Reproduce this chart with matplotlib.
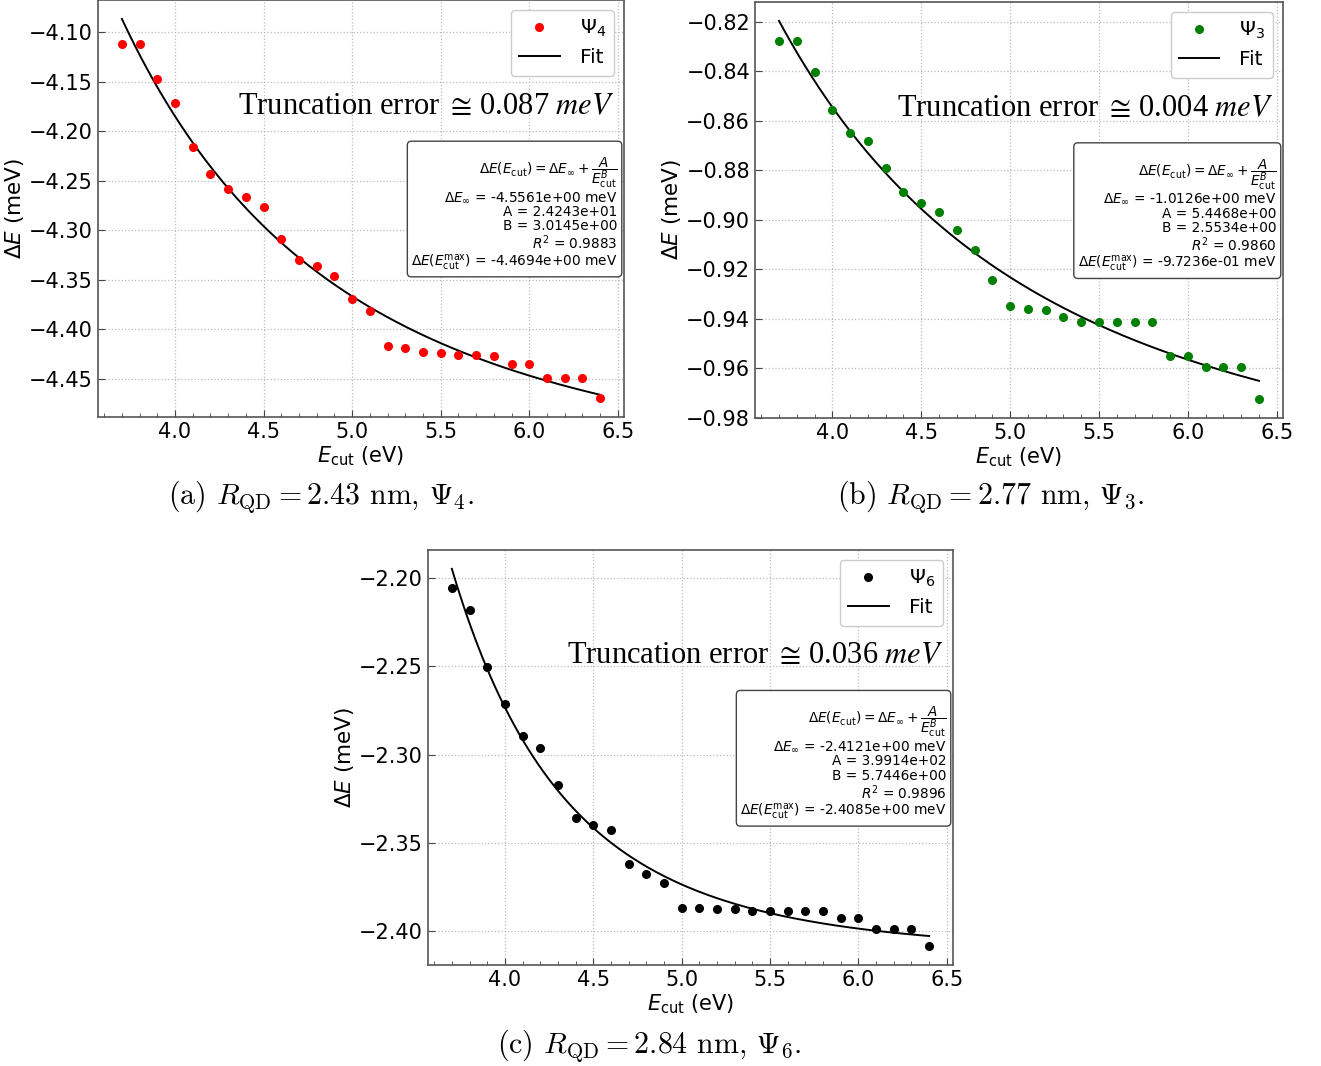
import numpy as np
import matplotlib
matplotlib.use("Agg")
import matplotlib.pyplot as plt

# ---------------- data ----------------
ecut = [3.7, 3.8, 3.9, 4.0, 4.1, 4.2, 4.3, 4.4, 4.5, 4.6, 4.7, 4.8, 4.9, 5.0,
        5.1, 5.2, 5.3, 5.4, 5.5, 5.6, 5.7, 5.8, 5.9, 6.0, 6.1, 6.2, 6.3, 6.4]

dE_a = [-4.1114, -4.1114, -4.1467, -4.1710, -4.2160, -4.2426, -4.2578, -4.2665,
        -4.2766, -4.3084, -4.3295, -4.3365, -4.3466, -4.3692, -4.3816, -4.4166,
        -4.4193, -4.4233, -4.4240, -4.4263, -4.4263, -4.4267, -4.4351, -4.4351,
        -4.4487, -4.4490, -4.4490, -4.4694]

dE_b = [-0.8279, -0.8279, -0.8404, -0.8558, -0.8648, -0.8680, -0.8790, -0.8889,
        -0.8933, -0.8968, -0.9043, -0.9123, -0.9242, -0.9347, -0.9362, -0.9366,
        -0.9394, -0.9411, -0.9411, -0.9414, -0.9414, -0.9414, -0.9551, -0.9551,
        -0.9596, -0.9595, -0.9595, -0.97236]

dE_c = [-2.2059, -2.2179, -2.2506, -2.2711, -2.2897, -2.2964, -2.3171, -2.3357,
        -2.3399, -2.3428, -2.3618, -2.3679, -2.3726, -2.3869, -2.3870, -2.3874,
        -2.3876, -2.3886, -2.3884, -2.3886, -2.3886, -2.3886, -2.3926, -2.3926,
        -2.3990, -2.3990, -2.3990, -2.4085]

# fit parameters as printed in each panel: (dE_inf, A, B, R2, dE(Emax))
fit_a = (-4.5561, 24.243, 3.0145, 0.9883, -4.4694)
fit_b = (-1.0126, 5.4468, 2.5534, 0.9860, -0.97236)
fit_c = (-2.4121, 399.14, 5.7446, 0.9896, -2.4085)

state_labels = [r"$\Psi_4$", r"$\Psi_3$", r"$\Psi_6$"]
trunc_errors = ["0.087", "0.004", "0.036"]
point_colors = ["#ff0000", "#008000", "#000000"]
captions = [r"(a) $R_{\mathrm{QD}} = 2.43$ nm, $\Psi_4$.",
            r"(b) $R_{\mathrm{QD}} = 2.77$ nm, $\Psi_3$.",
            r"(c) $R_{\mathrm{QD}} = 2.84$ nm, $\Psi_6$."]
ylims = [None, (-0.9800, -0.8121), None]
box_texts = [
    "\n".join([
        r"$\Delta E(E_{\rm cut}) = \Delta E_{\infty} + \dfrac{A}{E_{\rm cut}^{B}}$",
        r"$\Delta E_{\infty}$ = -4.5561e+00 meV",
        "A = 2.4243e+01",
        "B = 3.0145e+00",
        r"$R^2$ = 0.9883",
        r"$\Delta E(E_{\rm cut}^{\rm max})$ = -4.4694e+00 meV"]),
    "\n".join([
        r"$\Delta E(E_{\rm cut}) = \Delta E_{\infty} + \dfrac{A}{E_{\rm cut}^{B}}$",
        r"$\Delta E_{\infty}$ = -1.0126e+00 meV",
        "A = 5.4468e+00",
        "B = 2.5534e+00",
        r"$R^2$ = 0.9860",
        r"$\Delta E(E_{\rm cut}^{\rm max})$ = -9.7236e-01 meV"]),
    "\n".join([
        r"$\Delta E(E_{\rm cut}) = \Delta E_{\infty} + \dfrac{A}{E_{\rm cut}^{B}}$",
        r"$\Delta E_{\infty}$ = -2.4121e+00 meV",
        "A = 3.9914e+02",
        "B = 5.7446e+00",
        r"$R^2$ = 0.9896",
        r"$\Delta E(E_{\rm cut}^{\rm max})$ = -2.4085e+00 meV"]),
]

# ---------------- figure ----------------
W, H = 1321, 1066
fig = plt.figure(figsize=(W / 100, H / 100), dpi=100)
plt.rcParams['font.family'] = ['DejaVu Sans']
plt.rcParams['mathtext.fontset'] = 'dejavusans'
plt.rcParams['axes.formatter.use_mathtext'] = False


def rect(l, r, t, b):
    return [l / W, 1 - b / H, (r - l) / W, (b - t) / H]


axes_rects = [rect(98, 624, 0, 417), rect(755, 1283, 2, 418), rect(428, 953, 550, 965)]
caption_pos = [(321, 497), (991, 497), (649, 1046)]
datasets = [dE_a, dE_b, dE_c]
fits = [fit_a, fit_b, fit_c]

for i in range(3):
    ax = fig.add_axes(axes_rects[i])
    x = np.array(ecut)
    y = np.array(datasets[i])
    dEinf, A, B, R2, dEmax = fits[i]
    xf = np.linspace(x.min(), x.max(), 300)
    yf = dEinf + A / xf ** B
    ax.plot(x, y, 'o', color=point_colors[i], ms=5.5, label=state_labels[i], zorder=3)
    ax.plot(xf, yf, '-', color='black', lw=1.4, label='Fit', zorder=2)
    if ylims[i] is not None:
        ax.set_ylim(*ylims[i])

    ax.set_xticks([4.0, 4.5, 5.0, 5.5, 6.0, 6.5])
    ax.set_xticks(np.arange(3.6, 6.55, 0.1), minor=True)
    ax.tick_params(axis='both', which='major', direction='in', labelsize=15,
                   length=5, color='#444444')
    ax.tick_params(axis='x', which='minor', direction='in', length=3, color='#444444')
    ax.grid(True, which='major', linestyle=':', color='#bbbbbb', linewidth=0.9)
    for sp in ax.spines.values():
        sp.set_color('#555555')
        sp.set_linewidth(1.2)
    ax.set_xlabel(r"$E_{\rm cut}$ (eV)", fontsize=15)
    ax.set_ylabel(r"$\Delta E$ (meV)", fontsize=15.5, labelpad=2)
    ax.xaxis.labelpad = 2

    ax.legend(loc='upper right', numpoints=1, fontsize=14.5, fancybox=True,
              framealpha=1.0, edgecolor='#cccccc', borderpad=0.4,
              handletextpad=1.0, labelspacing=0.45)

    ax.text(0.982, 0.745,
            "Truncation error $\\cong\\,$" + trunc_errors[i] + " $meV$",
            transform=ax.transAxes, ha='right', va='center', fontsize=22,
            family='Liberation Serif', math_fontfamily='stix')

    ax.text(0.988, 0.628, box_texts[i], transform=ax.transAxes, ha='right', va='top',
            fontsize=9.8, multialignment='right', linespacing=1.03,
            bbox=dict(boxstyle='round,pad=0.3', facecolor='white',
                      edgecolor='#444444', linewidth=1.0))

    cx, cy = caption_pos[i]
    fig.text(cx / W, 1 - cy / H, captions[i], ha='center', va='center',
             fontsize=21.5, family='cmr10', math_fontfamily='cm')

fig.savefig("out.png", dpi=100)
